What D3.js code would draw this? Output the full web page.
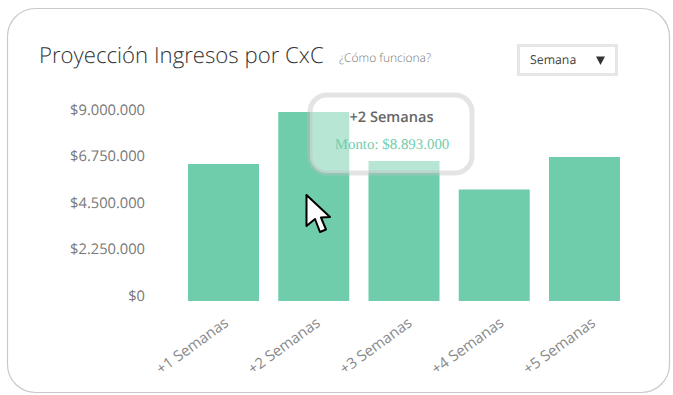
<!DOCTYPE html>
<html>
<head>
<meta charset="utf-8">
<script src="https://cdnjs.cloudflare.com/ajax/libs/d3/7.8.5/d3.min.js"></script>
<style>
  html, body { margin: 0; padding: 0; background: #fff; }
  svg { display: block; font-family: "Open Sans", sans-serif; text-rendering: geometricPrecision; }
</style>
</head>
<body>
<div id="chart"></div>
<script>
const categories = ["+1 Semanas", "+2 Semanas", "+3 Semanas", "+4 Semanas", "+5 Semanas"];
const values = [6445000, 8893000, 6587000, 5246000, 6775000];
const tickValues = [0, 2250000, 4500000, 6750000, 9000000];
const tickLabels = ["$0", "$2.250.000", "$4.500.000", "$6.750.000", "$9.000.000"];

const width = 673;
const height = 395;
const green = "#70cdab";

const svg = d3.select("#chart").append("svg")
  .attr("width", width)
  .attr("height", height);

// card
svg.append("rect")
  .attr("x", 7.5).attr("y", 8.5)
  .attr("width", 662).attr("height", 384)
  .attr("rx", 28)
  .attr("fill", "#fff")
  .attr("stroke", "#c9c9c9")
  .attr("stroke-width", 1.2);

// header
svg.append("text")
  .attr("x", 39).attr("y", 63)
  .attr("font-size", 22.2)
  .attr("font-weight", 300)
  .attr("fill", "#333")
  .text("Proyección Ingresos por CxC");

svg.append("text")
  .attr("x", 339).attr("y", 62)
  .attr("font-size", 12)
  .attr("font-weight", 300)
  .attr("fill", "#777")
  .text("¿Cómo funciona?");

// dropdown
const select = svg.append("g").attr("transform", "translate(517,44)");
select.append("rect")
  .attr("x", 1.5).attr("y", 1.5)
  .attr("width", 98).attr("height", 29)
  .attr("fill", "#fff")
  .attr("stroke", "#e6e6e8")
  .attr("stroke-width", 3);
select.append("text")
  .attr("x", 13).attr("y", 20)
  .attr("font-size", 12.3)
  .attr("fill", "#444")
  .text("Semana");
select.append("path")
  .attr("d", "M79,12.5 L88,12.5 L83.5,21 Z")
  .attr("fill", "#333");

// scales
const x = d3.scaleBand()
  .domain(categories)
  .range([188, 620])
  .paddingInner(0.213);

const y = d3.scaleLinear()
  .domain([0, 9000000])
  .range([301, 109.7]);

// the labels don't line up exactly with the bars in the original,
// so both axes get their own scale
const xLabels = d3.scaleBand()
  .domain(categories)
  .range([188, 626])
  .paddingInner(0.226);

const yLabels = d3.scaleLinear()
  .domain([0, 9000000])
  .range([295.7, 109.7]);

const yAxis = d3.axisLeft(yLabels)
  .tickValues(tickValues)
  .tickFormat((d) => tickLabels[tickValues.indexOf(d)])
  .tickSize(0)
  .tickPadding(0);

const yAxisG = svg.append("g")
  .attr("transform", "translate(145,0)")
  .call(yAxis);
yAxisG.select(".domain").remove();
yAxisG.selectAll("text")
  .attr("font-family", "'Open Sans', sans-serif")
  .attr("font-size", 14.7)
  .attr("fill", "#777");

const xAxis = d3.axisBottom(xLabels).tickSize(0).tickPadding(0);
const xAxisG = svg.append("g")
  .attr("transform", "translate(0,301)")
  .call(xAxis);
xAxisG.select(".domain").remove();
xAxisG.selectAll("text")
  .attr("font-family", "'Open Sans', sans-serif")
  .attr("font-size", 15)
  .attr("fill", "#888")
  .attr("text-anchor", "end")
  .attr("dy", 0)
  .attr("transform", "translate(6,24) rotate(-36)");

// bars
svg.append("g")
  .selectAll("rect")
  .data(values)
  .join("rect")
  .attr("x", (d, i) => x(categories[i]))
  .attr("y", (d) => y(d))
  .attr("width", x.bandwidth())
  .attr("height", (d) => y(0) - y(d))
  .attr("fill", green);

// tooltip on the second bar
const tooltip = svg.append("g").attr("transform", "translate(310,95)");
tooltip.append("rect")
  .attr("x", 0).attr("y", 0)
  .attr("width", 162).attr("height", 78)
  .attr("rx", 17)
  .attr("fill", "rgba(255,255,255,0.5)")
  .attr("stroke", "rgba(190,190,195,0.42)")
  .attr("stroke-width", 5);
tooltip.append("text")
  .attr("x", 81.5).attr("y", 27)
  .attr("text-anchor", "middle")
  .attr("font-size", 14.6)
  .attr("font-weight", 600)
  .attr("fill", "#666")
  .text(categories[1]);
tooltip.append("text")
  .attr("x", 82).attr("y", 54)
  .attr("text-anchor", "middle")
  .attr("font-family", "'Liberation Serif', serif")
  .attr("font-size", 14.9)
  .attr("fill", green)
  .text("Monto: " + "$" + d3.format(",")(values[1]).replace(/,/g, "."));

// mouse cursor
svg.append("path")
  .attr("transform", "translate(306,195)")
  .attr("d", "M0.5,0 L0.5,31 L9,24 L14,37 L20,34.5 L15,22.5 L24,22 Z")
  .attr("fill", "#fff")
  .attr("stroke", "#000")
  .attr("stroke-width", 2)
  .attr("stroke-linejoin", "round");
</script>
</body>
</html>
